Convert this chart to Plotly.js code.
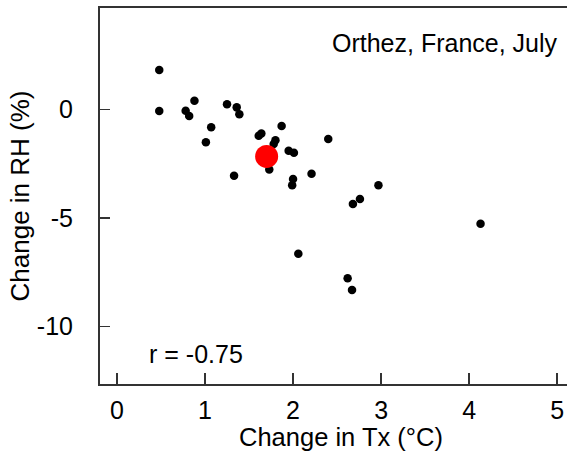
<!DOCTYPE html>
<html>
<head>
<meta charset="utf-8">
<script src="https://cdn.plot.ly/plotly-3.0.1.min.js"></script>
<style>html,body{margin:0;padding:0;background:#fff;}#chart{width:567px;height:453px;}</style>
</head>
<body>
<div id="chart"></div>
<script>
// Change in Tx (°C) for each model run
const txChange = [0.48, 0.48, 0.78, 0.82, 0.88, 1.07, 1.01, 1.25, 1.36, 1.39,
  1.61, 1.64, 1.87, 1.78, 1.80, 1.73, 1.95, 2.01, 2.40, 1.33,
  2.21, 2.00, 1.99, 2.97, 2.76, 2.68, 4.13, 2.06, 2.62, 2.67];
// Change in RH (%) for each model run
const rhChange = [1.82, -0.07, -0.06, -0.30, 0.41, -0.82, -1.51, 0.24, 0.10, -0.22,
  -1.21, -1.10, -0.76, -1.59, -1.42, -2.76, -1.90, -1.99, -1.36, -3.05,
  -2.96, -3.20, -3.49, -3.49, -4.12, -4.35, -5.26, -6.65, -7.78, -8.32];
// Ensemble mean
const meanTx = [1.70];
const meanRh = [-2.16];
const xTicks = [0, 1, 2, 3, 4, 5];
const yTicks = [0, -5, -10];
const panelLabel = "Orthez, France, July";
const corrLabel = "r = -0.75";
const xTitle = "Change in Tx (°C)";
const yTitle = "Change in RH (%)";

const FONT = "Liberation Sans, Arial, sans-serif";
const FS = 25;

const traces = [
  {x: txChange, y: rhChange, type: 'scatter', mode: 'markers',
   marker: {color: '#000', size: 8.5}, hoverinfo: 'skip'},
  {x: meanTx, y: meanRh, type: 'scatter', mode: 'markers',
   marker: {color: '#ff0000', size: 23}, hoverinfo: 'skip'}
];

const layout = {
  width: 567, height: 453,
  margin: {l: 100, r: 0, t: 8, b: 69},
  paper_bgcolor: '#fff', plot_bgcolor: '#fff',
  showlegend: false,
  font: {family: FONT, size: FS, color: '#000'},
  xaxis: {
    range: [-0.193, 5.112], tickvals: xTicks, ticktext: xTicks.map(String),
    ticks: 'inside', ticklen: 11, tickwidth: 1.5, tickcolor: '#333',
    showline: true, linecolor: '#333', linewidth: 2, mirror: true,
    showgrid: false, zeroline: false, ticklabelstandoff: 3,
    tickfont: {family: FONT, size: 25}
  },
  yaxis: {
    range: [-12.65, 4.68], tickvals: yTicks, ticktext: yTicks.map(String),
    ticks: 'inside', ticklen: 10, tickwidth: 1.5, tickcolor: '#333',
    showline: true, linecolor: '#333', linewidth: 2,
    showgrid: false, zeroline: false, ticklabelstandoff: 20,
    tickfont: {family: FONT, size: 25},
    title: {text: yTitle, font: {family: FONT, size: 26}, standoff: 0}
  },
  annotations: [
    {text: panelLabel, xref: 'paper', yref: 'paper', x: 0.985, y: 0.907,
     xanchor: 'right', yanchor: 'middle', showarrow: false, font: {family: FONT, size: FS}},
    {text: corrLabel, xref: 'paper', yref: 'paper', x: 0.1006, y: 0.0798,
     xanchor: 'left', yanchor: 'middle', showarrow: false, font: {family: FONT, size: FS}},
    {text: xTitle, xref: 'paper', yref: 'paper', x: 0.517, y: -0.141,
     xanchor: 'center', yanchor: 'middle', showarrow: false, borderpad: 0,
     font: {family: FONT, size: 25.5}}
  ]
};

Plotly.newPlot('chart', traces, layout, {staticPlot: true, displayModeBar: false});
</script>
</body>
</html>
